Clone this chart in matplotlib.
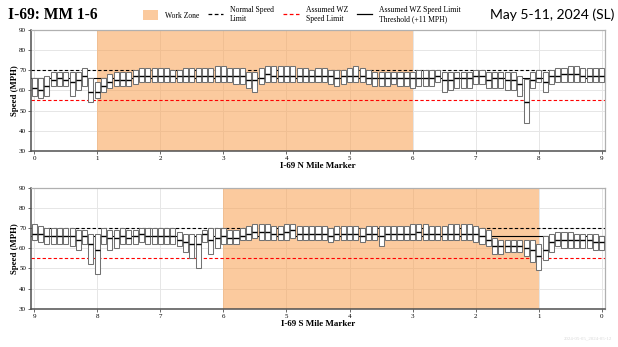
import numpy as np
import matplotlib
matplotlib.use("Agg")
import matplotlib.pyplot as plt
from matplotlib.lines import Line2D
from matplotlib.patches import Patch

# mile markers, 0.1 mi bins
miles = np.round(np.arange(0, 9.01, 0.1), 1)

# I-69 northbound: lower quartile, median, upper quartile speeds (mph), mile 0.0 -> 9.0
n_q1 = [57, 56, 57, 62, 62, 62, 57, 60, 62, 54,
        56, 59, 61, 62, 62, 62, 63, 64, 64, 64,
        64, 64, 64, 64, 64, 64, 64, 64, 64, 64,
        64, 64, 63, 63, 61, 59, 63, 64, 64, 64,
        64, 64, 64, 64, 64, 64, 64, 63, 62, 63,
        64, 64, 64, 63, 62, 62, 62, 63, 62, 62,
        61, 62, 62, 62, 64, 59, 60, 61, 61, 61,
        63, 63, 61, 61, 61, 60, 60, 57, 44, 61,
        64, 59, 63, 64, 64, 64, 64, 64, 64, 64, 64]
n_med = [61, 60, 62, 65, 66, 65, 64, 65, 67, 59,
         59, 62, 64, 65, 65, 65, 67, 67, 67, 67,
         67, 67, 67, 67, 67, 67, 67, 67, 67, 67,
         67, 67, 67, 67, 65, 65, 66, 68, 67, 67,
         67, 67, 67, 67, 67, 67, 67, 67, 66, 67,
         67, 67, 67, 66, 66, 66, 66, 66, 66, 66,
         66, 66, 66, 66, 67, 65, 65, 66, 66, 66,
         67, 67, 65, 66, 66, 65, 65, 63, 54, 65,
         66, 64, 67, 67, 68, 68, 68, 67, 67, 67, 67]
n_q3 = [66, 66, 67, 69, 69, 69, 69, 69, 71, 66,
        64, 66, 68, 69, 69, 69, 70, 71, 71, 71,
        71, 71, 70, 70, 71, 71, 71, 71, 71, 72,
        72, 71, 71, 71, 69, 69, 71, 72, 72, 72,
        72, 72, 71, 71, 70, 71, 71, 70, 70, 70,
        71, 72, 71, 70, 69, 69, 69, 69, 69, 69,
        69, 70, 70, 70, 70, 69, 69, 69, 69, 69,
        70, 70, 69, 69, 69, 69, 69, 67, 65.5, 69,
        70, 69, 70, 71, 71, 72, 72, 71, 71, 71, 71]

# I-69 southbound, mile 0.0 -> 9.0 (axis runs 9 -> 0)
s_q1 = [59, 59, 60, 60, 60, 60, 60, 61, 58, 54,
        49, 53, 56, 58, 58, 58, 57, 57, 61, 62,
        63, 64, 64, 64, 64, 64, 64, 64, 64, 64,
        64, 64, 64, 64, 64, 61, 64, 64, 63, 64,
        64, 64, 64, 63, 64, 64, 64, 64, 64, 65,
        64, 64, 64, 64, 64, 65, 64, 64, 62, 62,
        62, 60, 57, 63, 50, 55, 58, 61, 62, 62,
        62, 62, 62, 63, 62, 62, 62, 60, 59, 62,
        47, 52, 62, 59, 61, 62, 62, 62, 62, 63, 64]
s_med = [63, 63, 64, 64, 64, 64, 64, 64, 63, 59,
         56, 59, 60, 61, 61, 61, 61, 61, 64, 66,
         67, 67, 67, 67, 67, 67, 67, 67, 67, 68,
         67, 67, 67, 67, 67, 66, 67, 67, 66, 67,
         67, 67, 67, 66, 67, 67, 67, 67, 67, 69,
         68, 67, 67, 68, 68, 68, 67, 66, 65, 65,
         66, 65, 64, 67, 62, 62, 63, 64, 66, 66,
         66, 66, 66, 67, 66, 65, 66, 65, 65, 66,
         59, 62, 66, 64, 66, 66, 66, 66, 66, 67, 67]
s_q3 = [66, 67, 67, 67, 67, 68, 68, 68, 67, 66,
        62, 64, 64, 64, 64, 64, 64, 65, 69, 70,
        71, 72, 72, 72, 72, 71, 71, 71, 72, 72,
        72, 71, 71, 71, 71, 71, 71, 71, 70, 71,
        71, 71, 71, 70, 71, 71, 71, 71, 71, 72,
        72, 71, 71, 72, 72, 72, 71, 70, 69, 69,
        70, 70, 70, 69, 67, 67, 67, 68, 70, 70,
        70, 70, 70, 70, 69, 69, 70, 69, 69, 70,
        67, 67, 69, 69, 70, 70, 70, 70, 70, 71, 72]

work_zone = (1, 6)
normal_limit = 70
wz_limit = 55
wz_threshold = wz_limit + 11

serif = "Liberation Serif"
orange = "#F9A04F"

fig = plt.figure(figsize=(6.18, 3.47), dpi=100)
ax_n = fig.add_axes([0.0502, 0.5648, 0.9288, 0.3496])
ax_s = fig.add_axes([0.0502, 0.1101, 0.9288, 0.3493])


def draw_panel(ax, q1, med, q3, xlabel, reverse=False):
    q1 = np.asarray(q1, float)
    med = np.asarray(med, float)
    q3 = np.asarray(q3, float)
    ax.axvspan(*work_zone, color=orange, alpha=0.55, lw=0, zorder=1)
    ax.axhline(normal_limit, color="black", ls=(0, (3, 2)), lw=0.8, zorder=2)
    ax.axhline(wz_limit, color="red", ls=(0, (3, 2)), lw=0.8, zorder=2)
    ax.axhline(wz_threshold, color="black", lw=0.8, zorder=2)
    w = 0.08
    ax.bar(miles, q3 - q1, bottom=q1, width=w, color="white",
           edgecolor="#727272", lw=0.75, zorder=3)
    ax.hlines(med, miles - w / 2, miles + w / 2, color="black", lw=1.0, zorder=4)

    ax.set_ylim(30, 90)
    ax.set_yticks(range(30, 91, 10))
    if reverse:
        ax.set_xlim(9.05, -0.05)
    else:
        ax.set_xlim(-0.05, 9.05)
    ax.set_xticks(range(0, 10))
    ax.grid(True, color="#e6e6e6", lw=0.7, zorder=0)
    ax.set_axisbelow(True)
    for side in ("top", "right"):
        ax.spines[side].set_color("#b0b0b0")
        ax.spines[side].set_linewidth(0.9)
    for side in ("left", "bottom"):
        ax.spines[side].set_color("#505050")
        ax.spines[side].set_linewidth(1.1)
    ax.tick_params(labelsize=5, length=2, width=0.6, pad=1.5, color="#505050")
    for lab in ax.get_xticklabels() + ax.get_yticklabels():
        lab.set_family(serif)
    ax.set_ylabel("Speed (MPH)", family=serif, weight="bold", fontsize=6.3, labelpad=0)
    ax.set_xlabel(xlabel, family=serif, weight="bold", fontsize=6.5, labelpad=1)


draw_panel(ax_n, n_q1, n_med, n_q3, "I-69 N Mile Marker")
draw_panel(ax_s, s_q1, s_med, s_q3, "I-69 S Mile Marker", reverse=True)

fig.text(0.013, 0.958, "I-69: MM 1-6", family=serif, weight="bold",
         fontsize=11.2, va="center", ha="left")
fig.text(0.994, 0.958, "May 5-11, 2024 (SL)", family="Lato",
         fontsize=10, va="center", ha="right")

handles = [
    Patch(facecolor=orange, alpha=0.55, edgecolor="none"),
    Line2D([], [], color="black", ls=(0, (3, 2)), lw=0.9),
    Line2D([], [], color="red", ls=(0, (3, 2)), lw=0.9),
    Line2D([], [], color="black", lw=0.9),
]
labels = ["Work Zone", "Normal Speed\nLimit", "Assumed WZ\nSpeed Limit",
          "Assumed WZ Speed Limit\nThreshold (+11 MPH)"]
fig.legend(handles, labels, loc="center left", bbox_to_anchor=(0.222, 0.958),
           ncol=4, frameon=False, prop={"family": serif, "size": 5.5},
           handlelength=2.0, handleheight=1.6, columnspacing=1.2,
           handletextpad=0.9, borderpad=0.2)

fig.text(0.99, 0.02, "2024-05-05_2024-05-12", fontsize=3.5, color="#d8d8d8",
         ha="right", va="bottom", family=serif)

fig.savefig("out.png", dpi=100)
